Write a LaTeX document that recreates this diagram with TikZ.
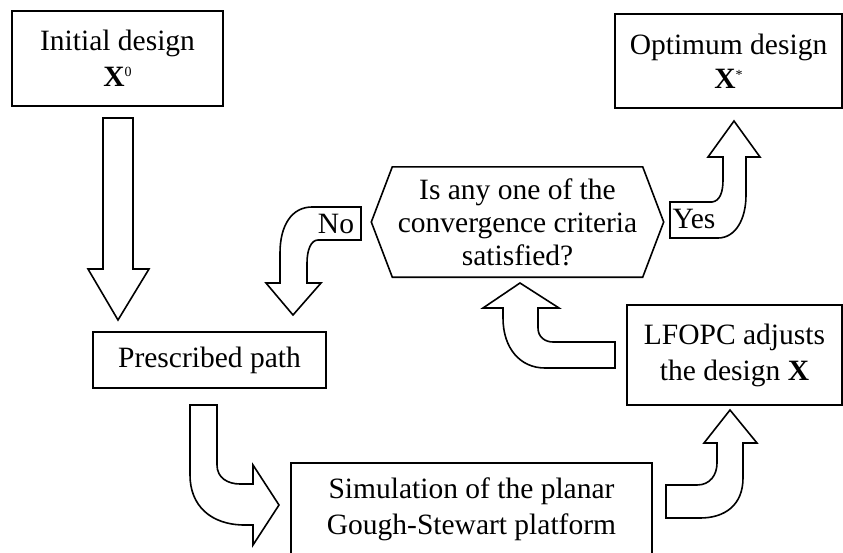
\documentclass[tikz,border=0pt]{standalone}
\usepackage{fontspec}
\setmainfont{Liberation Serif}
\usetikzlibrary{calc}
\newcommand{\supsmall}[2]{\raisebox{#1}{\fontsize{14}{14}\selectfont #2}}
\begin{document}
\begin{tikzpicture}[x=1pt,y=-1pt,
  every node/.style={font=\fontsize{29.5}{35}\selectfont},
  box/.style={draw,line width=1.6pt,inner sep=0pt,align=center},
  txt/.style={inner sep=0pt,align=center},
  blockarrow/.style={draw,line width=1.6pt,fill=white,line join=miter}]
\useasboundingbox (0,0) rectangle (843,552);
\clip (0,0) rectangle (843,552);
% boxes
\node[box,minimum width=211pt,minimum height=95pt] (init) at (117.5,58.5)
  {Initial design\\[1pt]\textbf{X}\supsmall{10pt}{0}};
\node[box,minimum width=227pt,minimum height=94pt] (opt) at (728.5,61)
  {Optimum design\\[-1pt]\textbf{X}\supsmall{9pt}{*}};
\node[box,minimum width=233pt,minimum height=56pt] (path) at (209.5,360)
  {Prescribed path};
\node[box,minimum width=215pt,minimum height=100pt] (lfopc) at (734.5,355)
  {LFOPC adjusts\\[1pt]the design \textbf{X}};
\node[box,minimum width=361pt,minimum height=92pt] (sim) at (471.5,509)
  {Simulation of the planar\\[1pt]Gough-Stewart platform};
% decision hexagon
\node[txt,minimum width=250pt,minimum height=110pt] (dec) at (517.5,222)
  {Is any one of the\\[-2pt]convergence criteria\\[-2pt]satisfied?};
\draw[line width=1.6pt,line join=miter] (dec.north west) -- (dec.north east)
  -- ($(dec.east)+(21,0)$) -- (dec.south east) -- (dec.south west)
  -- ($(dec.west)+(-21,0)$) -- cycle;
% block arrows
\draw[blockarrow] (103,118) -- (133,118) -- (133,269) -- (149,269) -- (118,320)
  -- (88,269) -- (103,269) -- cycle;
\draw[blockarrow] (361,207) -- (312,207) .. controls (292,207) and (280,225) .. (280,253)
  -- (280,283) -- (266,283) -- (293,315) -- (321,283) -- (307,283) -- (307,263)
  .. controls (307,250) and (311,240) .. (318,240) -- (361,240) -- cycle;
\node[txt] (no) at (336,224) {No};
\draw[blockarrow] (670,202) -- (712,202) .. controls (720,201) and (723,192) .. (723,180)
  -- (723,157) -- (708,157) -- (734,121) -- (760,157) -- (746,157) -- (746,195)
  .. controls (746,220) and (735,238) .. (718,238) -- (670,238) -- cycle;
\node[txt] (yes) at (694,219) {Yes};
\draw[blockarrow] (190,405) -- (217,405) -- (217,465) .. controls (217,478) and (228,484) .. (240,484)
  -- (253,484) -- (253,465) -- (279,505) -- (253,545) -- (253,525) -- (245,525)
  .. controls (210,525) and (190,505) .. (190,475) -- cycle;
\draw[blockarrow] (666,485) -- (697,485) .. controls (710,485) and (717,475) .. (717,463)
  -- (717,443) -- (704,443) -- (730,410) -- (757,443) -- (743,443) -- (743,478)
  .. controls (743,505) and (725,518) .. (700,518) -- (666,518) -- cycle;
\draw[blockarrow] (615,342) -- (553,342) .. controls (545,342) and (538,337) .. (538,328)
  -- (538,308) -- (559,308) -- (520,283) -- (483,308) -- (503,308) -- (503,318)
  .. controls (503,348) and (520,368) .. (545,368) -- (615,368) -- cycle;
\end{tikzpicture}
\end{document}
